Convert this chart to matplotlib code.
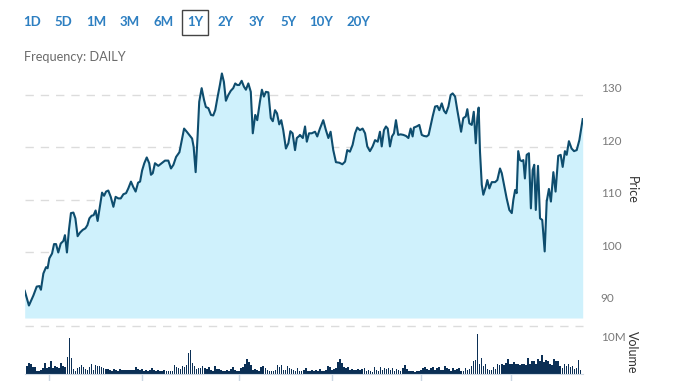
import numpy as np
import matplotlib
matplotlib.use('Agg')
import matplotlib.pyplot as plt
import matplotlib.transforms as mtransforms

# ---- data (1 year, daily) ----
# trading-session index (0 = first session) and closing price
days = [
    0, 1.9, 3.9, 5.4, 6.6, 7.3, 8.4, 9.6, 10.3, 11.1, 12.3, 13.2, 14.1, 15.1, 16.2, 17.4,
    18.1, 19.0, 19.9, 20.8, 21.9, 22.8, 23.8, 24.9, 26.1, 27.3, 28.2, 29.1, 30.1, 31.0,
    31.9, 32.8, 33.9, 34.8, 35.7, 36.6, 37.6, 38.7, 39.9, 40.9, 42.1, 43.2, 44.4, 45.6,
    46.6, 47.8, 48.8, 49.9, 51.0, 51.9, 52.8, 53.8, 54.9, 56.0, 56.8, 57.6, 58.6, 60.1,
    61.6, 63.1, 64.6, 65.8, 66.9, 68.1, 69.6, 70.6, 71.7, 72.9, 74.0, 75.3, 76.0, 76.9,
    77.8, 78.5, 79.6, 80.7, 81.5, 82.6, 83.8, 84.8, 85.7, 86.8, 87.8, 88.7, 89.6, 90.5,
    91.6, 92.7, 93.8, 94.7, 95.6, 96.5, 97.6, 98.6, 99.5, 100.6, 101.7, 102.6, 103.7,
    104.6, 105.8, 106.7, 107.6, 108.5, 109.6, 110.7, 111.6, 112.6, 113.5, 114.5, 115.4,
    116.3, 117.5, 118.6, 119.5, 120.5, 121.6, 122.4, 123.5, 123.8, 125.1, 126.1, 126.9,
    127.9, 129.1, 130.6, 131.6, 132.8, 134.3, 135.5, 136.6, 137.6, 138.8, 140.0, 141.5,
    142.9, 144.1, 145.1, 146.3, 147.5, 148.6, 149.6, 150.8, 152.0, 153.1, 154.1, 155.3,
    156.5, 157.6, 158.8, 159.8, 160.6, 161.6, 162.5, 163.3, 164.3, 165.2, 166.1, 167.0,
    168.0, 169.1, 170.3, 171.5, 172.6, 173.6, 174.5, 175.1, 176.3, 177.5, 178.6, 179.6,
    180.8, 181.7, 182.3, 183.5, 184.6, 185.6, 186.5, 187.6, 188.6, 189.5, 190.6, 191.6,
    192.5, 193.6, 194.6, 195.5, 196.3, 197.3, 198.4, 199.1, 200.0, 201.1, 202.0, 202.9,
    203.6, 204.2, 204.8, 205.6, 206.3, 207.4, 208.1, 209.0, 210.1, 211.6, 212.6, 213.8,
    214.6, 215.6, 216.8, 218.0, 219.1, 219.8, 220.6, 221.3, 222.0, 222.8, 223.6, 224.3,
    225.0, 225.8, 226.8, 227.7, 228.5, 229.2, 229.9, 230.9, 231.8, 232.8, 233.9, 234.8,
    235.8, 236.7, 237.8, 238.8, 240.0, 241.1, 242.0, 243.0, 243.8, 244.8, 246.0, 247.1,
    248.3, 249.5, 251.0,
]
price = [
    92.7, 89.9, 91.8, 93.5, 93.6, 92.9, 96.0, 97.2, 97.0, 98.9, 99.8, 101.6, 101.6, 100.0,
    101.7, 102.2, 103.3, 100.0, 104.3, 107.5, 107.6, 106.5, 103.1, 103.8, 104.3, 104.6,
    105.2, 106.5, 107.0, 107.1, 108.0, 106.0, 109.0, 111.4, 110.8, 111.6, 111.8, 110.6,
    108.7, 110.6, 110.3, 110.3, 111.1, 111.3, 112.2, 113.5, 112.5, 111.6, 113.3, 113.5,
    115.6, 117.0, 118.1, 117.0, 114.8, 115.1, 117.0, 116.5, 117.0, 117.5, 117.5, 116.0,
    116.7, 118.2, 119.1, 121.2, 123.6, 123.0, 122.4, 121.7, 120.1, 115.3, 122.4, 128.7,
    131.3, 129.0, 127.7, 127.5, 126.2, 126.1, 127.1, 129.7, 131.9, 134.1, 132.5, 128.9,
    130.0, 130.8, 131.3, 132.2, 131.9, 131.9, 132.7, 131.6, 131.0, 132.2, 130.6, 122.7,
    126.2, 125.2, 128.7, 131.0, 129.7, 130.6, 130.5, 125.6, 125.0, 127.1, 126.5, 124.4,
    125.2, 123.3, 119.8, 120.8, 123.1, 122.7, 119.5, 121.8, 122.2, 122.4, 121.8, 124.0,
    121.1, 122.7, 122.7, 123.0, 122.1, 123.6, 125.2, 123.3, 121.8, 123.0, 119.5, 117.2,
    117.1, 116.8, 117.3, 119.5, 119.2, 120.5, 122.7, 123.8, 123.3, 123.6, 122.7, 120.2,
    119.3, 120.2, 121.4, 121.1, 123.0, 120.2, 123.3, 124.0, 123.6, 120.2, 122.1, 122.7,
    125.2, 122.4, 122.5, 122.4, 122.2, 121.8, 123.6, 122.1, 123.8, 124.0, 124.3, 122.4,
    122.2, 122.1, 122.4, 123.6, 125.9, 127.8, 127.9, 127.1, 128.4, 127.0, 126.5, 127.8,
    130.0, 130.3, 129.7, 127.1, 124.9, 123.0, 125.6, 125.9, 127.3, 124.6, 124.3, 126.8,
    120.8, 125.6, 127.6, 119.2, 112.9, 111.0, 112.5, 113.8, 112.2, 113.4, 113.4, 113.8,
    116.0, 115.1, 112.9, 110.3, 108.1, 107.5, 110.0, 111.9, 111.3, 119.3, 117.6, 117.4,
    117.6, 114.1, 118.6, 118.9, 108.4, 115.7, 116.7, 108.1, 116.5, 106.5, 106.2, 100.2,
    109.7, 112.1, 109.7, 115.3, 111.6, 118.4, 118.6, 116.3, 119.3, 118.6, 121.2, 119.8,
    119.3, 119.5, 121.4, 125.4,
]
# daily volume, millions of shares
volume = [
    2.5, 3.5, 3.2, 2.3, 2.2, 0.9, 0.9, 1.4, 1.9, 3.5, 1.9, 2.2, 4.3, 1.9, 2.5, 2.2, 1.9,
    3.5, 2.5, 2.2, 5.5, 11.6, 5.2, 1.7, 1.1, 1.9, 2.2, 3.0, 2.2, 1.7, 1.4, 2.2, 3.2, 1.4,
    2.8, 2.6, 2.7, 2.2, 1.9, 1.7, 1.7, 1.4, 1.1, 1.7, 1.4, 1.1, 1.6, 1.4, 1.4, 1.4, 1.4,
    1.4, 1.4, 1.4, 2.2, 1.7, 1.4, 1.7, 1.1, 1.4, 1.1, 1.2, 1.9, 1.2, 0.9, 1.2, 0.9, 1.1,
    1.4,
    0.9, 0.9, 0.9, 1.1, 2.8, 2.2, 1.9, 1.7, 2.5, 2.2, 2.8, 6.8, 7.9, 3.5, 2.5, 1.7, 1.9,
    1.9, 2.5, 1.9, 1.6, 2.2, 1.4, 1.1, 2.5, 1.6, 1.7, 1.4, 1.1, 0.9, 1.4, 0.9, 1.7, 2.2,
    1.4, 1.1, 0.9, 1.9, 2.2, 3.2, 4.9, 3.9, 2.8, 1.4, 1.7, 1.4, 1.1, 2.2, 2.5, 1.9, 1.4,
    1.1, 0.9, 1.1, 1.4, 2.8, 2.2, 3.0, 1.4, 1.4, 2.5, 1.9, 1.7, 1.4, 1.1, 1.9, 1.1, 0.9,
    1.4, 1.9, 1.1,
    1.1, 1.4, 0.9, 1.4, 1.1, 1.7, 0.9, 1.1, 1.4, 2.5, 2.2, 1.4, 1.7, 1.9, 3.9, 4.8, 3.5,
    2.2, 1.9, 2.2, 1.4, 1.7, 1.4, 1.4, 1.7, 1.4, 1.7, 1.9, 1.1, 1.4, 0.9, 0.6, 2.2, 1.4,
    1.1, 2.2, 1.4, 1.9, 1.7, 1.9, 1.4, 1.9, 1.1, 1.7, 1.4, 1.1, 1.9, 2.8, 1.7, 1.1, 0.9,
    0.9, 0.6, 1.1, 0.9, 1.4, 1.9, 2.2, 1.7, 1.4, 1.9, 2.2, 1.4, 1.9, 2.3, 1.2, 1.4, 2.5,
    1.9, 1.7, 1.1, 1.9, 1.4,
    1.7, 1.9, 1.1, 1.1, 1.9, 1.4, 1.7, 2.5, 4.1, 4.6, 12.9, 3.2, 5.2, 2.5, 3.2, 1.7, 1.4,
    1.4, 2.2, 1.7, 3.2, 3.0, 3.2, 3.0, 3.5, 4.8, 3.2, 3.2, 3.9, 3.2, 3.2, 3.0, 3.2, 3.2,
    3.0, 5.2, 3.2, 4.1, 4.3, 3.2, 4.9, 4.1, 6.0, 3.9, 4.6, 4.1, 3.2, 2.8, 4.8, 4.3, 4.1,
    2.5, 1.9, 3.2, 2.5, 3.2, 2.2, 2.5, 1.7, 1.9, 4.6, 1.4,
]
price_ticks = [90, 100, 110, 120, 130]
month_ticks = [10.0, 52.4, 96.0, 138.3, 178.8, 219.3]   # session index of month starts
ranges = ['1D', '5D', '1M', '3M', '6M', '1Y', '2Y', '3Y', '5Y', '10Y', '20Y']
range_x = [32, 63, 96, 130, 164, 195, 226, 257, 289, 321, 358]   # pixel centres
selected = '1Y'

LINE = '#0e4d6e'
FILL = '#cff1fc'
BAR = '#0b2f55'
GRID = '#dcdcdc'
TXT = '#7a7a7a'

W, H = 678, 381
fig = plt.figure(figsize=(W / 100, H / 100), dpi=100)
plt.rcParams['font.family'] = ['Lato', 'DejaVu Sans']


def fx(px):
    return px / W


def fy(py):
    return 1 - py / H


# ---- price panel ----
p_lo, p_hi = 87.52, 135.71
ax = fig.add_axes([fx(24.7), fy(318), fx(558), (318 - 65) / H])
ax.fill_between(days, price, p_lo, color=FILL, lw=0)
ax.plot(days, price, color=LINE, lw=1.5, solid_joinstyle='round')
ax.set_xlim(0, 251)
ax.set_ylim(p_lo, p_hi)
for v in price_ticks:
    ax.axhline(v, color=GRID, lw=1, ls=(0, (6, 5)), zorder=0)
ax.yaxis.tick_right()
ax.set_yticks(price_ticks)
ax.tick_params(axis='y', length=0, pad=13, labelsize=8.5, labelcolor=TXT)
ax.set_xticks([])
off = mtransforms.ScaledTranslation(0, 7 / 100, fig.dpi_scale_trans)
for lab in ax.get_yticklabels():
    lab.set_transform(lab.get_transform() + off)
for s in ax.spines.values():
    s.set_visible(False)
ax.patch.set_alpha(0)

# ---- volume panel ----
vx = np.arange(len(volume)) * 251 / (len(volume) - 1)
vax = fig.add_axes([fx(24.7), fy(374), fx(558), (374 - 326) / H])
vax.bar(vx, volume, width=251 / len(volume) * 0.8, color=BAR, lw=0)
vax.set_xlim(-1, 252)
vax.set_ylim(0, 15.5)
vax.axhline(15.5, color=GRID, lw=1, ls=(0, (6, 5)), clip_on=False)
vax.yaxis.tick_right()
vax.set_yticks([10])
vax.set_yticklabels(['10M'])
vax.tick_params(axis='y', length=0, pad=13, labelsize=8.5, labelcolor=TXT)
for lab in vax.get_yticklabels():
    lab.set_transform(lab.get_transform() + off)
vax.set_xticks(month_ticks)
vax.set_xticklabels([])
vax.tick_params(axis='x', length=6, width=1, color='#c9d6e3', direction='out')
for k in ['top', 'right', 'left']:
    vax.spines[k].set_visible(False)
vax.spines['bottom'].set_color('#d0dae4')

# axis titles
fig.text(fx(632), fy(190), 'Price', rotation=270, ha='center', va='center',
         fontsize=9, color='#333333')
fig.text(fx(632), fy(352), 'Volume', rotation=270, ha='center', va='center',
         fontsize=9, color='#333333')

# ---- range selector & frequency ----
for lab, x in zip(ranges, range_x):
    fig.text(fx(x), fy(22), lab, ha='center', va='center', fontsize=9.5,
             color='#2d7fc1', fontweight='bold')
    if lab == selected:
        fig.patches.append(plt.Rectangle((fx(182), fy(35)), fx(26), 25 / H,
                                         transform=fig.transFigure, fill=False,
                                         ec='#444444', lw=1))
fig.text(fx(24), fy(57), 'Frequency: DAILY', ha='left', va='center',
         fontsize=9.2, color='#6b6b6b')

fig.savefig('out.png', dpi=100)
